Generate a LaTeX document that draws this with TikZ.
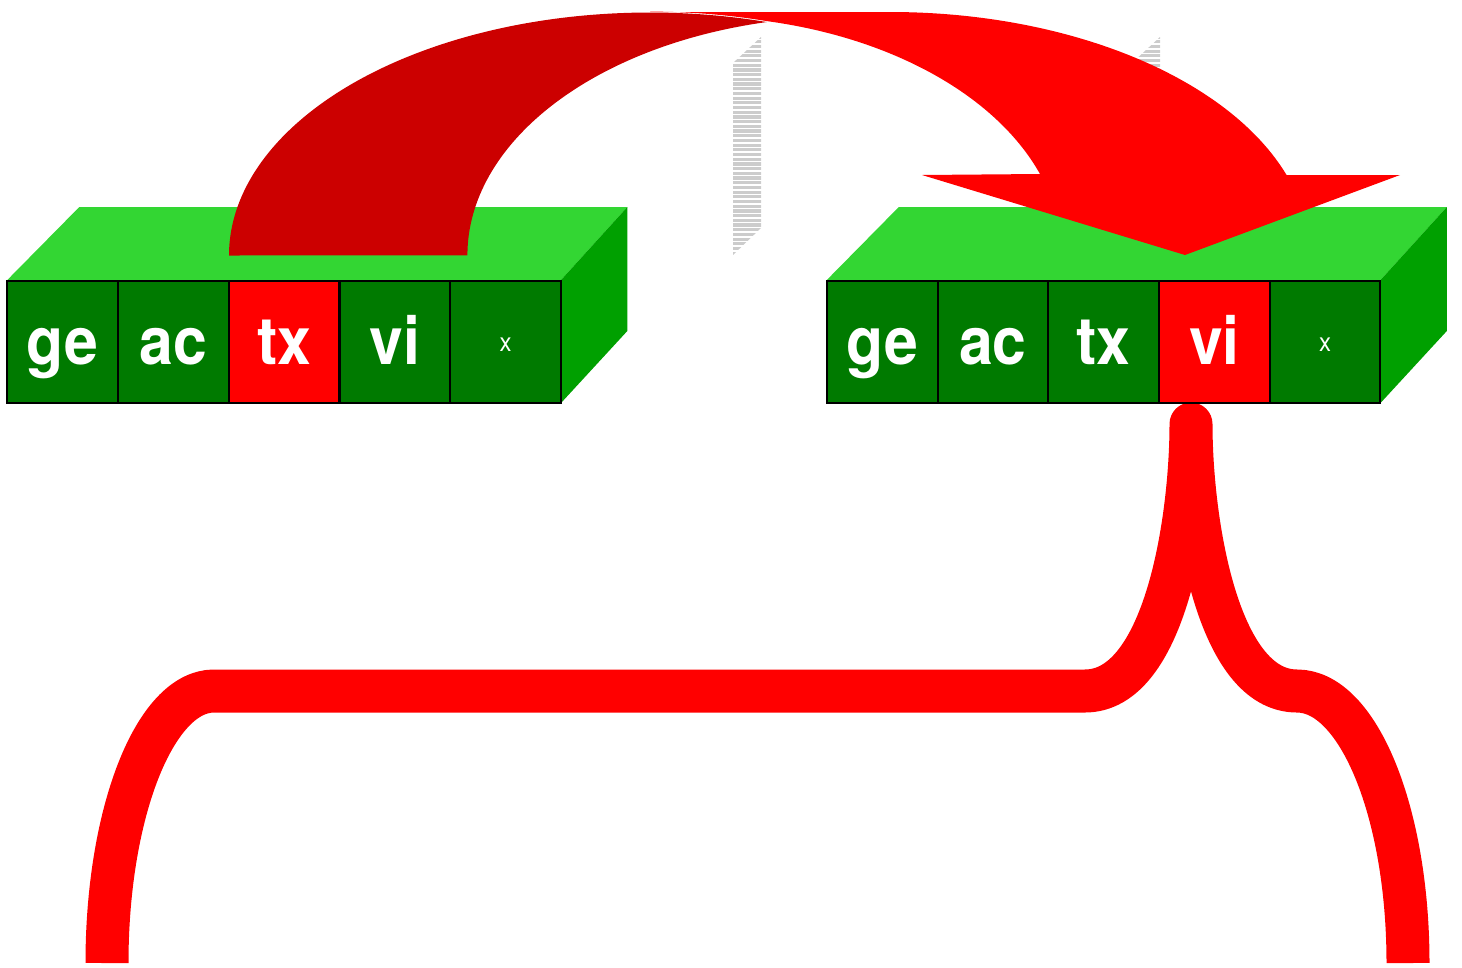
\documentclass[tikz,border=0pt]{standalone}
\usepackage{fontspec}
\usepackage{graphicx}
\setmainfont{TeX Gyre Heros}
\definecolor{frontgreen}{RGB}{0,122,0}
\definecolor{topgreen}{RGB}{51,214,51}
\definecolor{sidegreen}{RGB}{0,160,0}
\definecolor{brightred}{RGB}{255,0,0}
\definecolor{deepred}{RGB}{204,0,0}
\definecolor{hatchgray}{RGB}{204,204,204}
\tikzset{
  cell/.style={draw=black, line width=2pt, fill=frontgreen, minimum width=110.7pt, minimum height=122pt, inner sep=0pt, text=white, text height=45pt, text depth=0pt, font=\fontsize{66}{66}\selectfont\bfseries},
  smallcell/.style={cell, text height=19pt, font=\fontsize{26}{26}\selectfont},
  hl/.style={fill=brightred},
  topface/.style={fill=topgreen},
  sideface/.style={fill=sidegreen},
  hatchline/.style={draw=hatchgray, line width=3.2pt},
  brace/.style={draw=brightred, line width=43pt, line join=round},
}
\newcommand{\sq}[1]{\scalebox{0.92}[1]{#1}}
\begin{document}
\begin{tikzpicture}[x=1pt,y=-1pt]
\useasboundingbox (0,0) rectangle (1462,967);
% hatched parallelograms
\foreach \dx in {0,399}{
  \begin{scope}
    \clip (733+\dx,63) -- (761+\dx,37) -- (761+\dx,228) -- (733+\dx,255) -- cycle;
    \foreach \yy in {37,41.7,...,258}
      \draw[hatchline] (728+\dx,\yy) -- (766+\dx,\yy);
  \end{scope}
}
% brace
\coordinate (peak) at (1191,424);
\coordinate (legL) at (107,963);
\coordinate (legR) at (1408,963);
\draw[brace] (legL) arc[start angle=180, end angle=270, x radius=107, y radius=272] -- (1085,691) .. controls (1165,691) and (1191,520) .. (peak) .. controls (1191,520) and (1217,691) .. (1297,691) arc[start angle=270, end angle=360, x radius=111, y radius=272];
% left box
\fill[topface] (7.3,280) -- (79.3,207) -- (627.3,207) -- (561,280) -- cycle;
\fill[sideface] (561,280) -- (627.3,207) -- (627.3,331) -- (561,403) -- cycle;
\node[cell] (L1) at (62.7,341.5) {\sq{ge}};
\node[cell] (L2) at (173.4,341.5) {\sq{ac}};
\node[cell,hl] (L3) at (284.1,341.5) {\sq{tx}};
\node[cell] (L4) at (394.9,341.5) {\sq{vi}};
\node[smallcell] (L5) at (505.6,341.5) {\sq{x}};
% right box
\fill[topface] (826.8,280) -- (898.8,207) -- (1446.8,207) -- (1380.5,280) -- cycle;
\fill[sideface] (1380.5,280) -- (1446.8,207) -- (1446.8,331) -- (1380.5,403) -- cycle;
\node[cell] (R1) at (882.2,341.5) {\sq{ge}};
\node[cell] (R2) at (992.9,341.5) {\sq{ac}};
\node[cell] (R3) at (1103.6,341.5) {\sq{tx}};
\node[cell,hl] (R4) at (1214.4,341.5) {\sq{vi}};
\node[smallcell] (R5) at (1325.1,341.5) {\sq{x}};
% big curved arrow
\fill[brightred] (650,12) -- (890,12) arc[start angle=270, end angle=340.8, x radius=420, y radius=243] -- (1400,175) -- (1185,255) -- (922,175) -- (1040,174) arc[start angle=340.2, end angle=282, x radius=372, y radius=239] arc[start angle=286.1, end angle=270, x radius=421, y radius=243] -- cycle;
\fill[deepred] (229,255.5) arc[start angle=180, end angle=286.1, x radius=421, y radius=243] arc[start angle=257.5, end angle=180, x radius=382, y radius=239] -- cycle;
\end{tikzpicture}
\end{document}
